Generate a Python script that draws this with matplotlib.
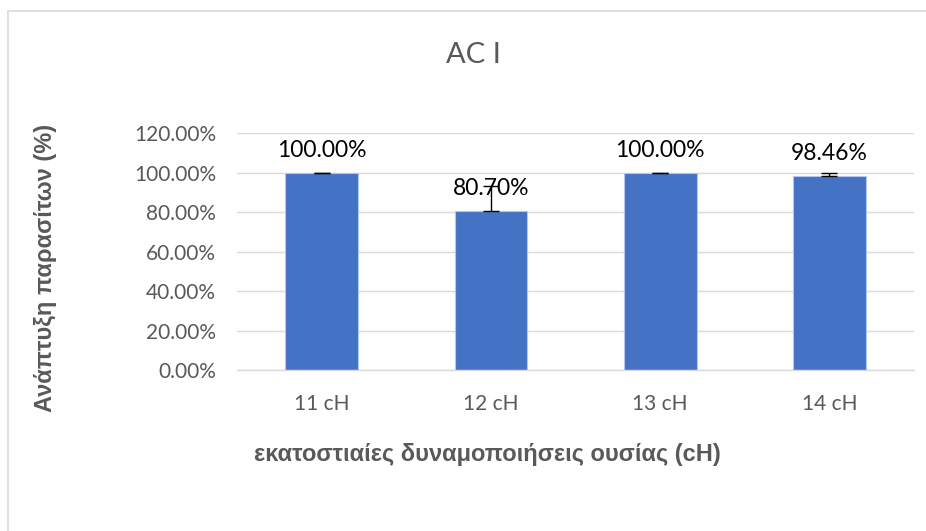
import matplotlib
matplotlib.use("Agg")
import matplotlib.pyplot as plt
from matplotlib.ticker import FuncFormatter
from matplotlib.patches import Rectangle

# Parasite growth per centesimal potency
categories = ["11 cH", "12 cH", "13 cH", "14 cH"]
growth = [100.00, 80.70, 100.00, 98.46]
err_plus = [0.0, 12.7, 0.0, 1.54]

plt.rcParams["font.family"] = ["Lato", "Open Sans", "DejaVu Sans"]
greek_font = ["Liberation Sans", "DejaVu Sans"]

fig = plt.figure(figsize=(9.26, 5.31), dpi=100)
ax = fig.add_axes([0.256, 0.3032, 0.731, 0.4463])

# chart frame
fig.patches.append(Rectangle((8 / 926, -0.1), 1.2, 1 - 10.5 / 531 + 0.1,
                             transform=fig.transFigure, fill=False,
                             edgecolor="#d9d9d9", linewidth=1.2))

x = range(len(categories))
ax.bar(x, growth, width=0.43, color="#4472c4", edgecolor="#b4c7e7",
       linewidth=0.8, zorder=3)
ax.errorbar(x, growth, yerr=[[0] * len(err_plus), err_plus], fmt="none",
            ecolor="black", elinewidth=1, capsize=6, capthick=1, zorder=4)

for xi, v in zip(x, growth):
    ax.text(xi, v + 6.0, f"{v:.2f}%", ha="center", va="bottom",
            fontsize=16.5, color="black", zorder=5)

ax.set_xlim(-0.5, 3.5)
ax.set_ylim(0, 120)
ax.set_yticks(range(0, 121, 20))
ax.yaxis.set_major_formatter(FuncFormatter(lambda v, _: f"{v:.2f}%"))
ax.set_xticks(list(x))
ax.set_xticklabels(categories)
ax.tick_params(axis="both", length=0, labelsize=15, colors="#595959")
ax.tick_params(axis="x", pad=17)
ax.tick_params(axis="y", pad=15)

ax.grid(axis="y", color="#d9d9d9", linewidth=1, zorder=0)
for s in ["top", "right", "left"]:
    ax.spines[s].set_visible(False)
ax.spines["bottom"].set_color("#d9d9d9")
ax.spines["bottom"].set_linewidth(1)
ax.spines["bottom"].set_zorder(6)

fig.text(473 / 926, 1 - 55 / 531, "AC I", ha="center", va="center",
         fontsize=21, color="#595959")
fig.text(487 / 926, 1 - 454 / 531,
         "εκατοστιαίες δυναμοποιήσεις ουσίας (cH)", ha="center",
         va="center", fontsize=17, fontweight="bold", color="#595959",
         family=greek_font)
fig.text(46 / 926, 1 - 268 / 531, "Ανάπτυξη παρασίτων (%)", rotation=90,
         ha="center", va="center", fontsize=17, fontweight="bold",
         color="#595959", family=greek_font)

fig.savefig("out.png", dpi=100, facecolor="white")
